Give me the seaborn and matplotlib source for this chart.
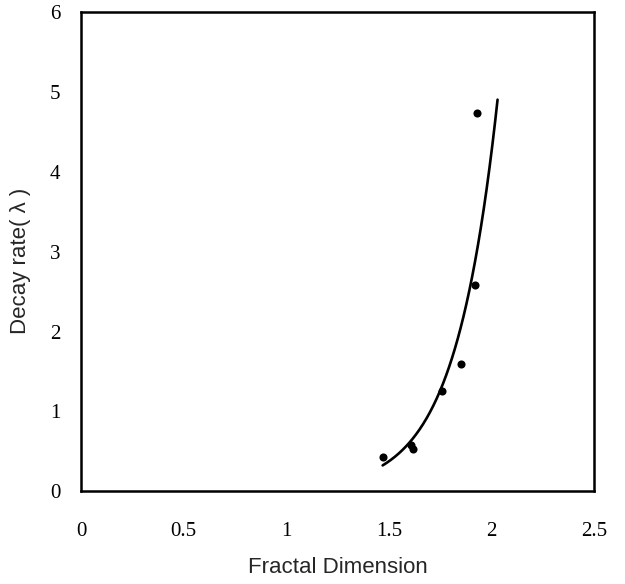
import numpy as np
import pandas as pd
import matplotlib
matplotlib.use("Agg")
import matplotlib.pyplot as plt
import seaborn as sns

# Data
fractal_dim = [1.47, 1.61, 1.62, 1.76, 1.85, 1.92, 1.93]
decay_rate = [0.43, 0.58, 0.53, 1.25, 1.59, 2.58, 4.74]
x_ticks = [0, 0.5, 1, 1.5, 2, 2.5]
x_tick_labels = ["0", "0.5", "1", "1.5", "2", "2.5"]
y_ticks = [0, 1, 2, 3, 4, 5, 6]
y_tick_labels = ["0", "1", "2", "3", "4", "5", "6"]
fit_x_range = [1.47, 2.03]

sns.set_style("white")
plt.rcParams["font.family"] = ["Liberation Serif", "DejaVu Serif"]

fig = plt.figure(figsize=(6.25, 5.84), dpi=100)
ax = fig.add_axes([0.1296, 0.159, 0.8208, 0.820])

df = pd.DataFrame({"x": fractal_dim, "y": decay_rate})

# exponential trendline fitted to the data (least squares on log y)
b, ln_a = np.polyfit(np.array(fractal_dim), np.log(np.array(decay_rate)), 1)
xf = np.linspace(fit_x_range[0], fit_x_range[1], 200)
fit_df = pd.DataFrame({"x": xf, "y": np.exp(ln_a) * np.exp(b * xf)})

sns.lineplot(data=fit_df, x="x", y="y", ax=ax, color="black", linewidth=1.9)
sns.scatterplot(data=df, x="x", y="y", ax=ax, color="black", s=34,
                edgecolor="black", linewidth=0, zorder=3)

ax.set_xlim(0, 2.5)
ax.set_ylim(0, 6)
ax.set_xticks(x_ticks)
ax.set_xticklabels(x_tick_labels)
ax.set_yticks(y_ticks)
ax.set_yticklabels(y_tick_labels)
ax.tick_params(axis="both", length=0, labelsize=15, colors="black")
ax.tick_params(axis="x", pad=22)
ax.tick_params(axis="y", pad=15)

for sp in ax.spines.values():
    sp.set_visible(True)
    sp.set_color("black")
    sp.set_linewidth(1.8)

ax.set_xlabel("Fractal Dimension", family=["Liberation Sans", "DejaVu Sans"],
              fontsize=16)
ax.xaxis.set_label_coords(0.5, -0.138)
ax.set_ylabel("Decay rate( λ )", family=["Liberation Sans", "DejaVu Sans"],
              fontsize=16)
ax.yaxis.set_label_coords(-0.097, 0.48)

fig.savefig("out.png", dpi=100, facecolor="white")
